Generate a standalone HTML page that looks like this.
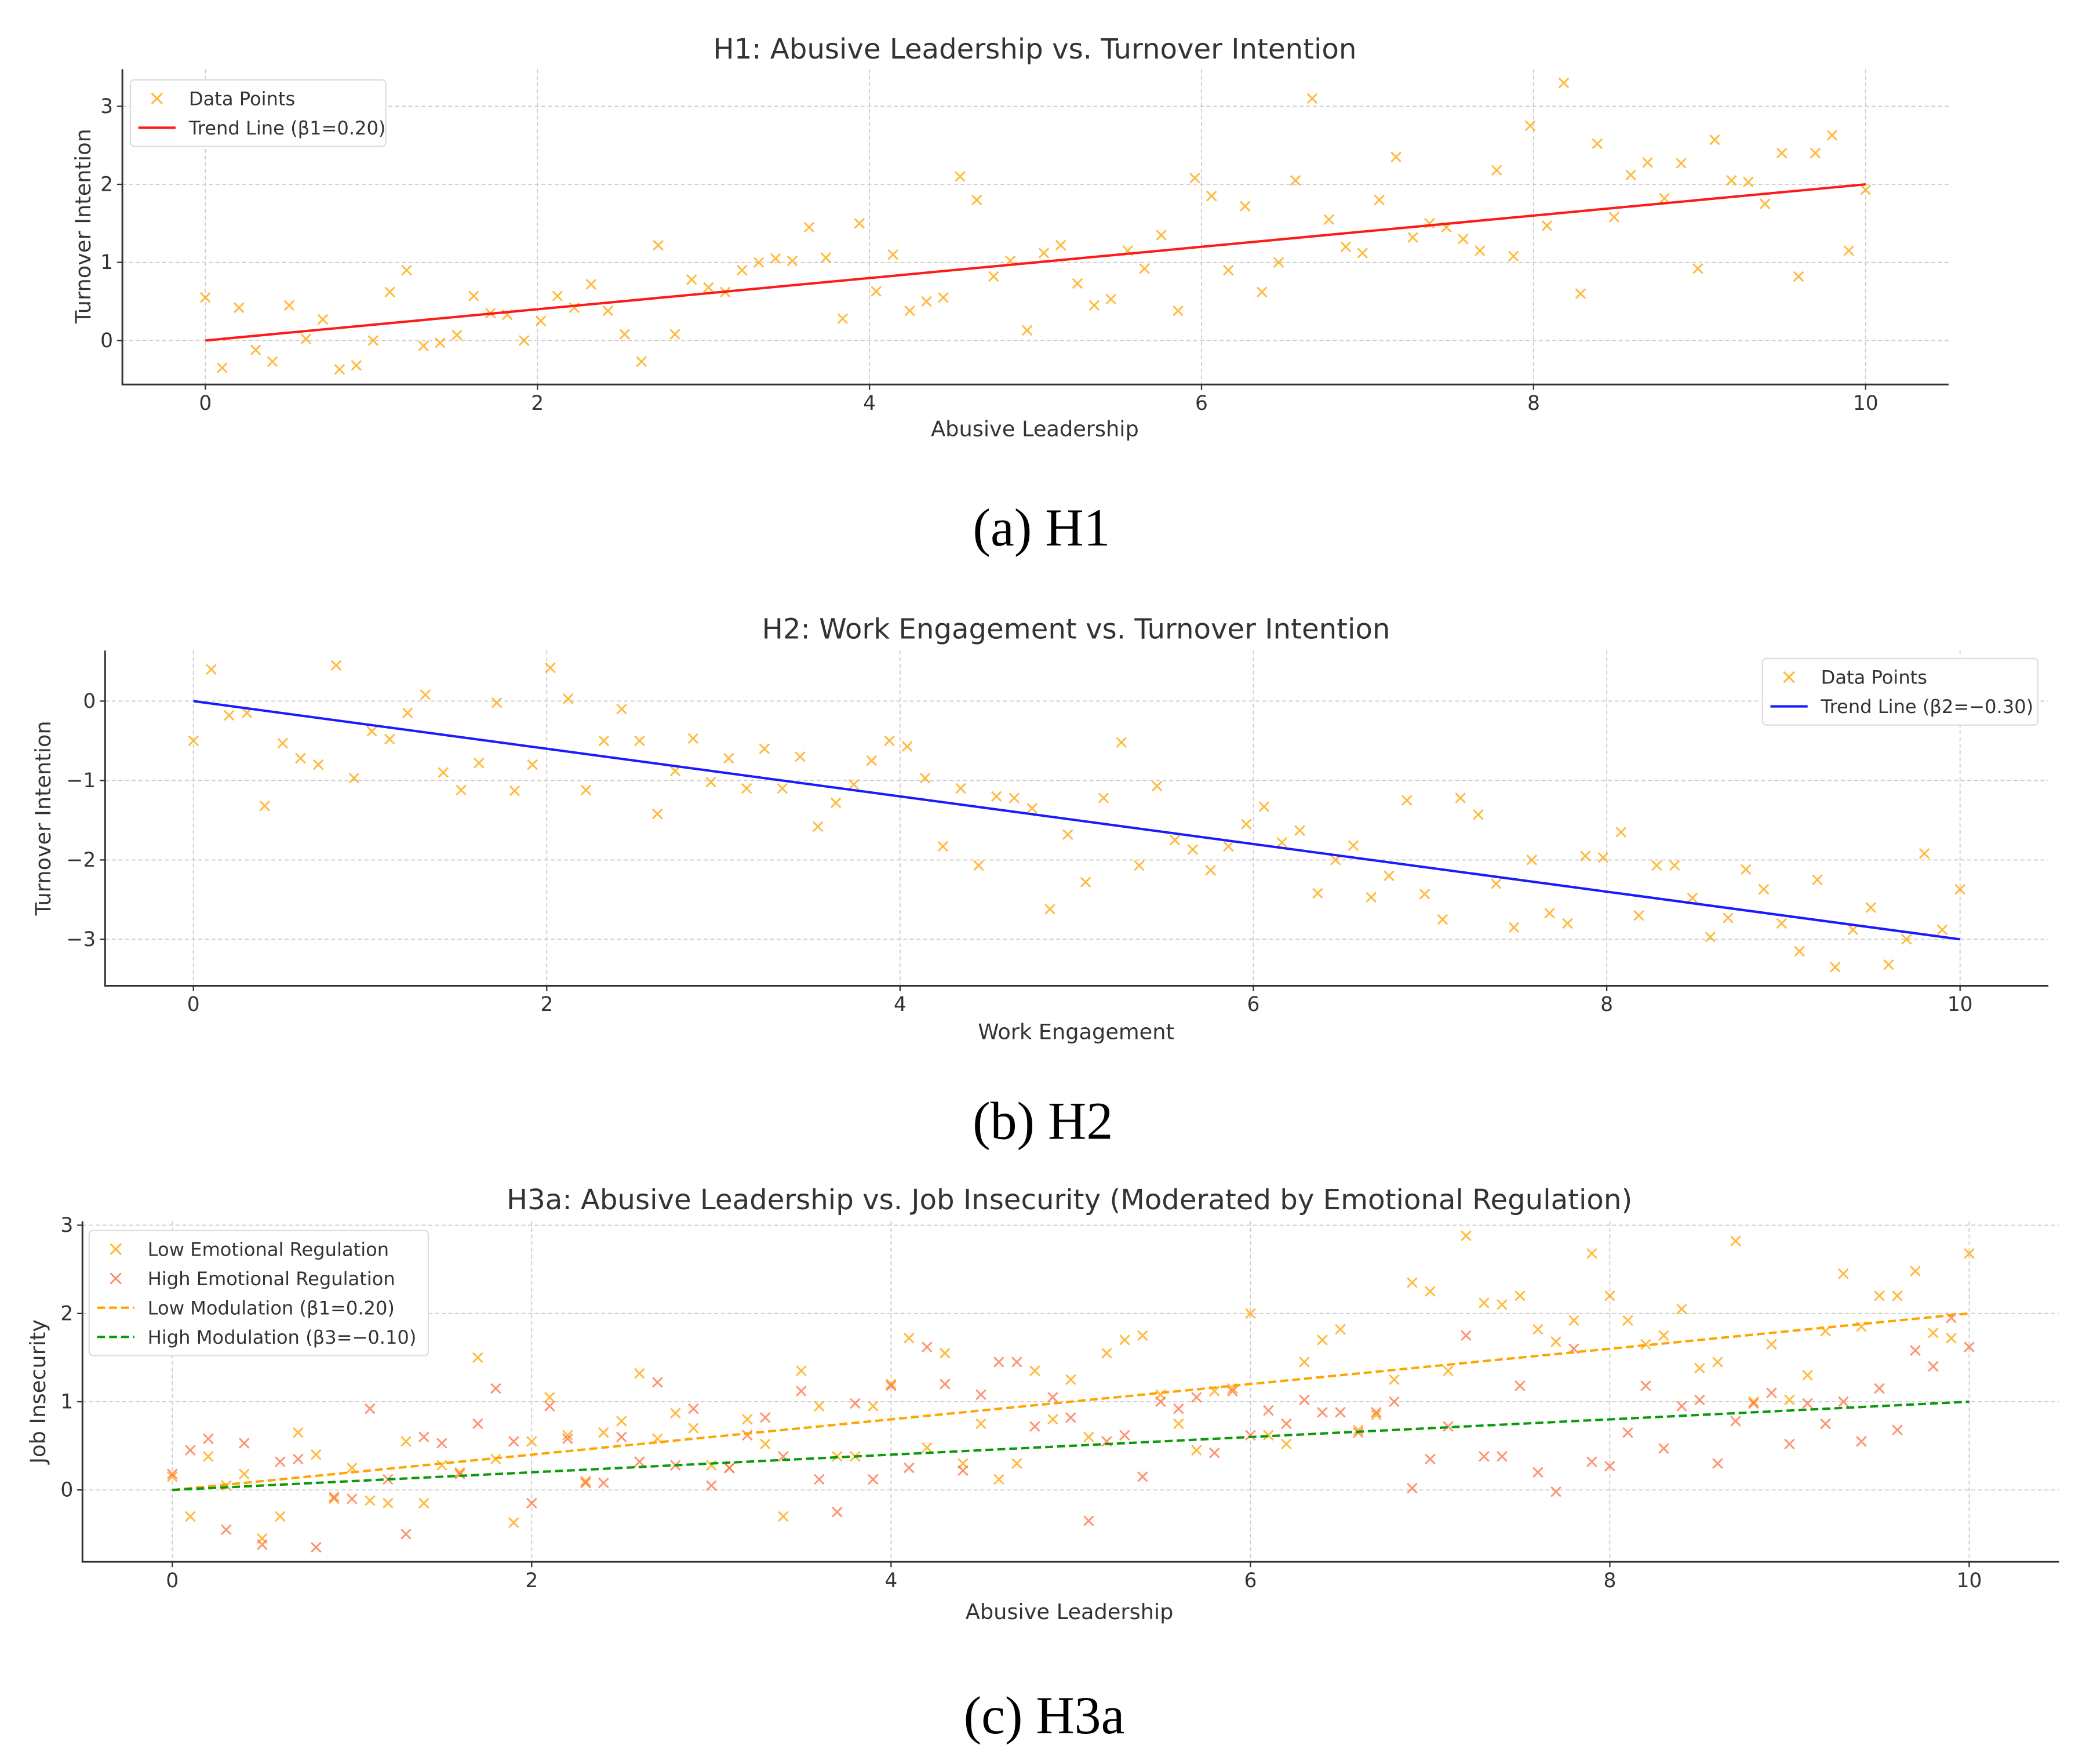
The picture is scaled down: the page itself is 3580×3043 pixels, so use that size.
<!DOCTYPE html>
<html><head><meta charset="utf-8"><style>
html,body{margin:0;padding:0;background:#fff;}
svg{display:block;}
text{font-family:"DejaVu Sans","Liberation Sans",sans-serif;fill:#333;}
.cap{font-family:"Liberation Serif",serif;fill:#000;}
</style></head><body>
<svg id="fig" width="3580" height="3043" viewBox="0 0 1560 1326" xmlns="http://www.w3.org/2000/svg">
<text class="cap" x="783" y="410" font-size="40" text-anchor="middle">(a) H1</text>
<text class="cap" x="784" y="856" font-size="40" text-anchor="middle">(b) H2</text>
<text class="cap" x="785" y="1303" font-size="40" text-anchor="middle">(c) H3a</text>
</svg>
<script>
// H1 data (x is evenly spaced 0..10)
const h1Y=[0.55,-0.35,0.42,-0.12,-0.27,0.45,0.02,0.27,-0.37,-0.32,0.0,0.62,0.9,-0.07,-0.03,0.07,0.57,0.35,0.33,0.0,0.25,0.57,0.42,0.72,0.38,0.08,-0.27,1.22,0.08,0.78,0.68,0.62,0.9,1.0,1.05,1.02,1.45,1.06,0.28,1.5,0.63,1.1,0.38,0.5,0.55,2.1,1.8,0.82,1.02,0.13,1.12,1.22,0.73,0.45,0.53,1.15,0.92,1.35,0.38,2.08,1.85,0.9,1.72,0.62,1.0,2.05,3.1,1.55,1.2,1.12,1.8,2.35,1.32,1.5,1.45,1.3,1.15,2.18,1.08,2.75,1.47,3.3,0.6,2.52,1.58,2.12,2.28,1.82,2.27,0.92,2.57,2.05,2.03,1.75,2.4,0.82,2.4,2.63,1.15,1.93];
const h1Trend=[0,2.0];
const h2Y=[-0.5,0.4,-0.18,-0.15,-1.32,-0.53,-0.72,-0.8,0.45,-0.97,-0.38,-0.48,-0.15,0.08,-0.9,-1.12,-0.78,-0.02,-1.13,-0.8,0.42,0.03,-1.12,-0.5,-0.1,-0.5,-1.42,-0.88,-0.47,-1.02,-0.72,-1.1,-0.6,-1.1,-0.7,-1.58,-1.28,-1.05,-0.75,-0.5,-0.57,-0.97,-1.83,-1.1,-2.07,-1.2,-1.22,-1.35,-2.62,-1.68,-2.28,-1.22,-0.52,-2.07,-1.07,-1.75,-1.87,-2.13,-1.83,-1.55,-1.33,-1.78,-1.63,-2.42,-2.0,-1.82,-2.47,-2.2,-1.25,-2.43,-2.75,-1.22,-1.43,-2.3,-2.85,-2.0,-2.67,-2.8,-1.95,-1.97,-1.65,-2.7,-2.07,-2.07,-2.48,-2.97,-2.73,-2.12,-2.37,-2.8,-3.15,-2.25,-3.35,-2.88,-2.6,-3.32,-3.0,-1.92,-2.88,-2.37];
const h2Trend=[0,-3.0];
const h3Low=[0.15,-0.3,0.38,0.05,0.18,-0.55,-0.3,0.65,0.4,-0.1,0.25,-0.12,-0.15,0.55,-0.15,0.28,0.2,1.5,0.35,-0.37,0.55,1.05,0.62,0.1,0.65,0.78,1.32,0.58,0.87,0.7,0.28,0.25,0.8,0.52,-0.3,1.35,0.95,0.38,0.38,0.95,1.2,1.72,0.48,1.55,0.3,0.75,0.12,0.3,1.35,0.8,1.25,0.6,1.55,1.7,1.75,1.08,0.75,0.45,1.12,1.15,2.0,0.62,0.52,1.45,1.7,1.82,0.68,0.85,1.25,2.35,2.25,1.35,2.88,2.12,2.1,2.2,1.82,1.68,1.92,2.68,2.2,1.92,1.65,1.75,2.05,1.38,1.45,2.82,1.0,1.65,1.02,1.3,1.8,2.45,1.85,2.2,2.2,2.48,1.78,1.72,2.68];
const h3High=[0.18,0.45,0.58,-0.45,0.53,-0.62,0.32,0.35,-0.65,-0.08,-0.1,0.92,0.12,-0.5,0.6,0.53,0.18,0.75,1.15,0.55,-0.15,0.95,0.58,0.08,0.08,0.6,0.32,1.22,0.28,0.92,0.05,0.25,0.62,0.82,0.38,1.12,0.12,-0.25,0.98,0.12,1.18,0.25,1.62,1.2,0.22,1.08,1.45,1.45,0.72,1.05,0.82,-0.35,0.55,0.62,0.15,1.0,0.92,1.05,0.42,1.12,0.62,0.9,0.75,1.02,0.88,0.88,0.65,0.88,1.0,0.02,0.35,0.72,1.75,0.38,0.38,1.18,0.2,-0.02,1.6,0.32,0.27,0.65,1.18,0.47,0.95,1.02,0.3,0.78,0.98,1.1,0.52,0.98,0.75,1.0,0.55,1.15,0.68,1.58,1.4,1.95,1.62];
const h3LowTrend=[0,2.0];
const h3HighTrend=[0,1.0];
const xTicks=[0,2,4,6,8,10];
const h1YTicks=[0,1,2,3];
const h2YTicks=[0,-1,-2,-3];
const h3YTicks=[0,1,2,3];

const NS="http://www.w3.org/2000/svg";
const svg=document.getElementById('fig');
function mk(tag,attrs,parent){const e=document.createElementNS(NS,tag);for(const k in attrs)e.setAttribute(k,attrs[k]);(parent||svg).appendChild(e);return e;}
function tx(s,attrs,parent){const e=mk('text',attrs,parent);e.textContent=s;return e;}

function panel(cfg){
  const g=mk('g',{});
  
  
  const sx=v=>cfg.L+(v-cfg.x0)/(cfg.x1-cfg.x0)*(cfg.R-cfg.L);
  const sy=v=>cfg.B-(v-cfg.y0)/(cfg.y1-cfg.y0)*(cfg.B-cfg.T);
  xTicks.forEach(t=>{
    const l=mk('line',{x1:sx(t),x2:sx(t),y1:cfg.T,y2:cfg.B,stroke:'#ccc','stroke-width':0.8,'stroke-dasharray':'3,2'},g);
    
    
    mk('line',{x1:sx(t),x2:sx(t),y1:cfg.B,y2:cfg.B+4,stroke:'#333','stroke-width':1},g);
    const lab=tx(String(t),{x:sx(t),y:cfg.B+19,'font-size':15,'text-anchor':'middle'},g);
    
    
  });
  cfg.yTicks.forEach(t=>{
    const l=mk('line',{x1:cfg.L,x2:cfg.R,y1:sy(t),y2:sy(t),stroke:'#ccc','stroke-width':0.8,'stroke-dasharray':'3,2'},g);
    
    
    mk('line',{x1:cfg.L-4,x2:cfg.L,y1:sy(t),y2:sy(t),stroke:'#333','stroke-width':1},g);
    const lab=tx(String(t).replace('-','\u2212'),{x:cfg.L-7,y:sy(t)+5,'font-size':15,'text-anchor':'end'},g);
    
    
  });
  const ax=mk('path',{d:`M${cfg.L},${cfg.T}V${cfg.B}H${cfg.R}`,fill:'none',stroke:'#333','stroke-width':1.3},g);
  
  
  cfg.series.forEach(s=>{
    s.y.forEach((v,i)=>{
      const x=sx(i*10/(s.y.length-1)),y=sy(v),d=3.6;
      const p=mk('path',{d:`M${x-d},${y-d}L${x+d},${y+d}M${x-d},${y+d}L${x+d},${y-d}`,stroke:s.color,'stroke-width':1.3,opacity:0.75},g);
      
      
    });
  });
  cfg.lines.forEach(l=>{
    const e=mk('line',{x1:sx(0),y1:sy(l.v[0]),x2:sx(10),y2:sy(l.v[1]),stroke:l.color,'stroke-width':1.8},g);
    if(l.dash)e.setAttribute('stroke-dasharray','6,3');
    
    
  });
  const t=tx(cfg.title,{x:cfg.tx,y:cfg.ty,'font-size':21,'text-anchor':'middle'},g);
  
  
  const xl=tx(cfg.xlabel,{x:cfg.xlx,y:cfg.xly,'font-size':16,'text-anchor':'middle'},g);
  
  
  const yl=tx(cfg.ylabel,{x:0,y:0,'font-size':16,'text-anchor':'middle',transform:`translate(${cfg.ylx},${cfg.yly}) rotate(-90)`},g);
  
  
  // legend
  const lg=cfg.legend;
  const lgG=mk('g',{},g);
  
  
  mk('rect',{x:lg.x,y:lg.y,width:lg.w,height:lg.items.length*22+6,fill:'#fff',stroke:'#ddd','stroke-width':1,rx:3},lgG);
  lg.items.forEach((it,i)=>{
    const cy=lg.y+14+i*22, cx=lg.x+20;
    if(it.type==='x'){
      mk('path',{d:`M${cx-4},${cy-4}L${cx+4},${cy+4}M${cx-4},${cy+4}L${cx+4},${cy-4}`,stroke:it.color,'stroke-width':1.3,opacity:0.8},lgG);
    }else{
      const ln=mk('line',{x1:cx-14,x2:cx+14,y1:cy,y2:cy,stroke:it.color,'stroke-width':1.8},lgG);
      if(it.dash)ln.setAttribute('stroke-dasharray','6,3');
    }
    const e=tx(it.label,{x:lg.x+44,y:cy+5,'font-size':14},lgG);
    
    
  });
}
panel({name:'chart-h1',L:92,R:1465,T:52,B:289,x0:-0.5,x1:10.5,y0:-0.563,y1:3.475,yTicks:h1YTicks,
  series:[{y:h1Y,color:'#FFA500'}],lines:[{v:h1Trend,color:'#FF1A1A'}],
  title:'H1: Abusive Leadership vs. Turnover Intention',tx:778,ty:44,xlabel:'Abusive Leadership',xlx:778,xly:328,ylabel:'Turnover Intention',ylx:68,yly:170,
  legend:{x:98,y:60,w:192,items:[{type:'x',color:'#FFA500',label:'Data Points'},{type:'l',color:'#FF1A1A',label:'Trend Line (\u03b21=0.20)'}]}});
panel({name:'chart-h2',L:79,R:1540,T:489,B:741,x0:-0.5,x1:10.5,y0:-3.585,y1:0.637,yTicks:h2YTicks,
  series:[{y:h2Y,color:'#FFA500'}],lines:[{v:h2Trend,color:'#1A1AFF'}],
  title:'H2: Work Engagement vs. Turnover Intention',tx:809,ty:480,xlabel:'Work Engagement',xlx:809,xly:781,ylabel:'Turnover Intention',ylx:38,yly:615,
  legend:{x:1325,y:495,w:207,items:[{type:'x',color:'#FFA500',label:'Data Points'},{type:'l',color:'#1A1AFF',label:'Trend Line (\u03b22=\u22120.30)'}]}});
panel({name:'chart-h3a',L:62,R:1548,T:918,B:1174,x0:-0.5,x1:10.5,y0:-0.814,y1:3.045,yTicks:h3YTicks,
  series:[{y:h3Low,color:'#FFA500'},{y:h3High,color:'#FF7043'}],lines:[{v:h3LowTrend,color:'#FFA500',dash:true},{v:h3HighTrend,color:'#0A9A0A',dash:true}],
  title:'H3a: Abusive Leadership vs. Job Insecurity (Moderated by Emotional Regulation)',tx:804,ty:909,xlabel:'Abusive Leadership',xlx:804,xly:1217,ylabel:'Job Insecurity',ylx:34,yly:1046,
  legend:{x:67,y:925,w:255,items:[{type:'x',color:'#FFA500',label:'Low Emotional Regulation'},{type:'x',color:'#FF7043',label:'High Emotional Regulation'},{type:'l',color:'#FFA500',dash:true,label:'Low Modulation (\u03b21=0.20)'},{type:'l',color:'#0A9A0A',dash:true,label:'High Modulation (\u03b23=\u22120.10)'}]}});
</script>
</body></html>
